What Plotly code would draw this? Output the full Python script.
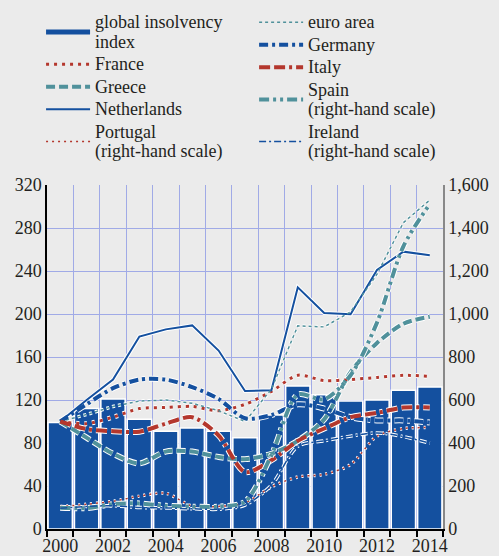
import plotly.graph_objects as go

years = list(range(2000, 2015))

global_index = [99, 112, 121, 102, 91, 94, 91, 85, 106, 133, 125, 119, 120, 129, 132]
euro_area = [100, 106.5, 114, 119, 120, 117, 110, 100, 130, 189, 188, 202, 237, 285, 306]
france = [100, 98, 104, 112, 113, 114, 110, 116, 128, 143, 138, 139, 141, 143, 142]
germany = [100, 116, 131, 139, 139, 132, 121, 103, 106, 116, 112, 104, 101, 101, 99]
greece = [100, 85, 70, 61, 72, 72, 67, 65, 70, 82, 102, 146, 173, 191, 197.5]
italy = [100, 93, 91, 90.5, 98, 104, 87, 53, 64, 82, 93.5, 104, 108, 113, 113]
netherlands = [100, 120, 139, 179, 185.7, 189.4, 166, 128.4, 129, 224.8, 201, 199.7, 241, 258, 254.6]
spain = [99, 97, 116, 119, 108, 104, 104, 127, 343, 625, 603, 715, 960, 1315, 1512]
portugal = [104, 115, 129, 153, 166, 107, 105, 122, 196, 242, 254, 300, 432, 467, 472]
ireland = [96, 105, 108, 100, 98, 94, 92, 111, 204, 385, 410, 432, 447, 430, 399]

left_ticks = list(range(0, 321, 40))
right_ticks = list(range(0, 1601, 200))
x_labels = list(range(2000, 2015, 2))

BLUE = "#14509F"
TEAL = "#50919B"
RED = "#B4372D"
GRID = "#A0AAE6"
BG = "#EBEBEB"
FONT = "Liberation Serif, Times New Roman, Times, serif"


def lbl(*lines):
    return "<br>".join("<span style='font-size:18px'>%s</span>" % s for s in lines)


fig = go.Figure()

fig.add_trace(go.Bar(x=years, y=global_index, marker=dict(color=BLUE, line=dict(color="white", width=1.5)),
                     showlegend=False, width=0.92))

series = [
    # name, data, color, width, dash, axis, legend, shape
    (lbl("global insolvency", "index"), None, BLUE, 5, "solid", "y", "legend", "linear"),
    (lbl("France"), france, RED, 3, "3px,5px", "y", "legend", "spline"),
    (lbl("Greece"), greece, TEAL, 4, "9px,4px", "y", "legend", "spline"),
    (lbl("Netherlands"), netherlands, BLUE, 2, "solid", "y", "legend", "linear"),
    (lbl("Portugal", "(right-hand scale)"), portugal, RED, 1.5, "2px,4px", "y2", "legend", "spline"),
    (lbl("euro area"), euro_area, TEAL, 1.5, "3px,3px", "y", "legend2", "linear"),
    (lbl("Germany"), germany, BLUE, 4, "9px,4px,3px,4px", "y", "legend2", "spline"),
    (lbl("Italy"), italy, RED, 4, "11px,4px,11px,4px,3px,4px", "y", "legend2", "spline"),
    (lbl("Spain", "(right-hand scale)"), spain, TEAL, 4, "10px,4px,3px,4px,3px,4px", "y2", "legend2", "spline"),
    (lbl("Ireland", "(right-hand scale)"), ireland, BLUE, 1.5, "7px,3px,2px,3px", "y2", "legend2", "spline"),
]

# white halos first
for name, data, color, w, dash, ax, lg, shp in series:
    if data is None:
        continue
    fig.add_trace(go.Scatter(x=years, y=data, mode="lines", yaxis=ax, showlegend=False, hoverinfo="skip",
                             line=dict(color="white", width=w + 2, dash=dash, shape=shp, smoothing=0.8)))

for name, data, color, w, dash, ax, lg, shp in series:
    fig.add_trace(go.Scatter(x=years if data is not None else [None], y=data if data is not None else [None],
                             mode="lines", yaxis=ax, name=name, legend=lg,
                             line=dict(color=color, width=w, dash=dash, shape=shp, smoothing=0.8)))

LEG_Y = 1.520
fig.update_layout(
    width=499, height=556,
    margin=dict(l=47, r=56, t=185, b=27, autoexpand=False),
    paper_bgcolor=BG, plot_bgcolor=BG,
    font=dict(family=FONT, size=18, color="#231F20"),
    bargap=0.08,
    legend=dict(x=-0.015, y=LEG_Y, xanchor="left", yanchor="top",
                font=dict(size=15, family=FONT), bgcolor="rgba(0,0,0,0)", tracegroupgap=0, itemwidth=44),
    legend2=dict(x=0.523, y=LEG_Y, xanchor="left", yanchor="top",
                 font=dict(size=15, family=FONT), bgcolor="rgba(0,0,0,0)", tracegroupgap=0, itemwidth=44),
    xaxis=dict(range=[1999.5, 2014.5], tickvals=x_labels, ticktext=[str(v) for v in x_labels],
               ticks="", showgrid=False, zeroline=False, showline=True, linecolor="black", linewidth=1.5,
               tickfont=dict(size=18),
               minor=dict(tickvals=[y - 0.5 for y in years] + [2014.5], ticks="outside", ticklen=6,
                          tickcolor="black", tickwidth=1.5, showgrid=True, gridcolor=GRID, gridwidth=1)),
    yaxis=dict(range=[0, 320], tickvals=left_ticks, showgrid=True, gridcolor=GRID, gridwidth=1,
               zeroline=False, showline=True, linecolor="black", linewidth=1.5, ticks="", tickfont=dict(size=18)),
    yaxis2=dict(range=[0, 1600], tickvals=right_ticks, tickformat=",", overlaying="y", side="right",
                showgrid=False, zeroline=False, showline=True, linecolor="#888888", linewidth=1.5, ticks="",
                tickfont=dict(size=18)),
)

fig.write_html("out.html", config={"displayModeBar": False},
               post_script="document.body.style.margin='0';document.body.style.background='#EBEBEB';")
